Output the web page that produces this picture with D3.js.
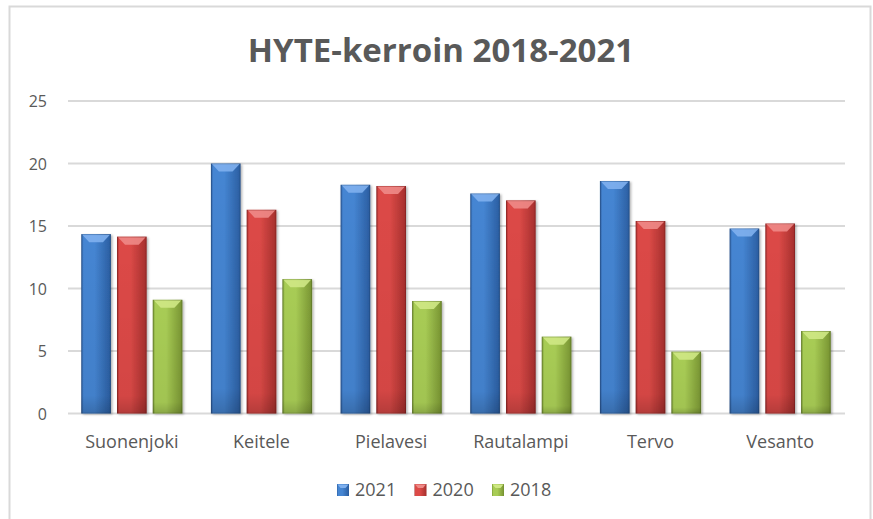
<!DOCTYPE html>
<html><head><meta charset="utf-8">
<script src="https://cdn.jsdelivr.net/npm/d3@7"></script>
<style>body{margin:0;background:#fff}svg{display:block}text{font-family:"Open Sans",sans-serif;fill:#595959}</style>
</head><body><svg id="c" width="873" height="519"></svg>
<script>
const categories = ["Suonenjoki","Keitele","Pielavesi","Rautalampi","Tervo","Vesanto"];
const seriesNames = ["2021","2020","2018"];
const values2021 = [14.35, 20.0, 18.3, 17.6, 18.6, 14.8];
const values2020 = [14.15, 16.3, 18.2, 17.05, 15.4, 15.2];
const values2018 = [9.1, 10.75, 9.0, 6.15, 4.95, 6.6];
const yTicks = [0,5,10,15,20,25];
const title = "HYTE-kerroin 2018-2021";
const seriesValues = [values2021, values2020, values2018];
const colors = {"2021":["#2a5a9a","#4585d2","#2e63a8"],"2020":["#9e2a28","#dc4a47","#ad3331"],"2018":["#6f8c2e","#a8cc55","#7f9c37"]};
const tops = {"2021":"#7fb0ee","2020":"#ee8a87","2018":"#cfe885"};

const svg = d3.select("#c");
const defs = svg.append("defs");
seriesNames.forEach((s,i)=>{
  const g = defs.append("linearGradient").attr("id","g"+i).attr("x1","0").attr("x2","1").attr("y1","0").attr("y2","0");
  g.append("stop").attr("offset","0").attr("stop-color",colors[s][0]);
  g.append("stop").attr("offset","0.08").attr("stop-color",colors[s][1]);
  g.append("stop").attr("offset","0.45").attr("stop-color",colors[s][1]);
  g.append("stop").attr("offset","0.92").attr("stop-color",colors[s][2]);
  g.append("stop").attr("offset","1").attr("stop-color",colors[s][0]);
  const v = defs.append("linearGradient").attr("id","v"+i).attr("x1","0").attr("x2","0").attr("y1","0").attr("y2","1");
  v.append("stop").attr("offset","0").attr("stop-color","#000").attr("stop-opacity",0);
  v.append("stop").attr("offset","0.9").attr("stop-color","#000").attr("stop-opacity",0.04);
  v.append("stop").attr("offset","1").attr("stop-color","#000").attr("stop-opacity",0.18);
});
const f = defs.append("filter").attr("id","sh").attr("x","-20%").attr("y","-5%").attr("width","140%").attr("height","115%");
f.append("feDropShadow").attr("dx",1.5).attr("dy",1).attr("stdDeviation",1.2).attr("flood-color","#000").attr("flood-opacity",0.3);

// chart border
svg.append("rect").attr("x",9.5).attr("y",6.5).attr("width",861).attr("height",530)
  .attr("fill","none").attr("stroke","#d9d9d9").attr("stroke-width",2);

const x0 = d3.scaleBand().domain(categories).range([67,845]).paddingInner(0.22).paddingOuter(0.11);
const x1 = d3.scaleBand().domain(seriesNames).range([0,x0.bandwidth()]).paddingInner(0.17);
const y = d3.scaleLinear().domain([0,25]).range([413.5,101]);

// gridlines
svg.append("g").selectAll("line").data(yTicks).join("line")
  .attr("x1",68).attr("x2",845).attr("y1",d=>y(d)).attr("y2",d=>y(d))
  .attr("stroke","#d9d9d9").attr("stroke-width",1.8);

// y axis labels
const yAxis = d3.axisLeft(y).tickValues(yTicks).tickSize(0).tickPadding(0);
const ya = svg.append("g").attr("transform","translate(47,0)").call(yAxis);
ya.attr("font-size",null).attr("font-family",null);
ya.select(".domain").remove();
ya.selectAll("text").style("font-size","16px").style("font-family","Open Sans").attr("fill","#595959").attr("dy","0.36em");

// bars
const groups = svg.append("g").selectAll("g").data(categories).join("g")
  .attr("transform",d=>`translate(${x0(d)},0)`);
const bar = groups.selectAll("g").data((c,ci)=>seriesNames.map((s,si)=>({s,si,v:seriesValues[si][ci]}))).join("g");
bar.append("rect").attr("x",d=>x1(d.s)).attr("y",d=>y(d.v)).attr("width",x1.bandwidth())
  .attr("height",d=>y(0)-y(d.v)).attr("fill",d=>`url(#g${d.si})`).attr("filter","url(#sh)");
bar.append("rect").attr("x",d=>x1(d.s)).attr("y",d=>y(d.v)).attr("width",x1.bandwidth())
  .attr("height",d=>y(0)-y(d.v)).attr("fill",d=>`url(#v${d.si})`);
bar.append("path").attr("d",d=>{
  const a=x1(d.s), w=x1.bandwidth(), t=y(d.v), h=8;
  return `M${a+1},${t+0.5}L${a+w-1},${t+0.5}L${a+w-8},${t+h}L${a+8},${t+h}Z`;
}).attr("fill",d=>tops[d.s]).attr("opacity",0.9);
bar.append("rect").attr("x",d=>x1(d.s)+0.5).attr("y",d=>y(d.v)+0.5).attr("width",x1.bandwidth()-1)
  .attr("height",d=>y(0)-y(d.v)-1).attr("fill","none").attr("stroke","#000").attr("stroke-opacity",0.12);

// x labels
const xAxis = d3.axisBottom(x0).tickSize(0).tickPadding(0);
const xa = svg.append("g").attr("transform","translate(0,447.5)").call(xAxis);
xa.attr("font-size",null).attr("font-family",null);
xa.select(".domain").remove();
xa.selectAll("text").style("font-size","18px").style("font-family","Open Sans").attr("fill","#595959").attr("dy",0);

// title
svg.append("text").attr("x",441).attr("y",62).attr("text-anchor","middle")
  .attr("font-size",33).attr("font-weight","bold").text(title);

// legend
const legX = [337,414.5,492];
const leg = svg.append("g").selectAll("g").data(seriesNames).join("g")
  .attr("transform",(d,i)=>`translate(${legX[i]},484)`);
leg.append("rect").attr("width",12).attr("height",12).attr("fill",(d,i)=>`url(#g${i})`);
leg.append("path").attr("d","M0.5,0.5L11.5,0.5L8.5,4L3.5,4Z").attr("fill",d=>tops[d]);
leg.append("text").attr("x",18).attr("y",12.3).attr("font-size",18).text(d=>d);
</script></body></html>
